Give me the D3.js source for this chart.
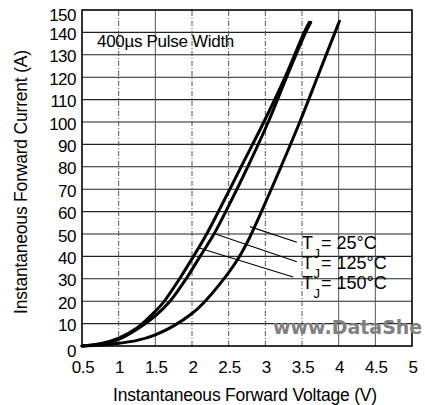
<!DOCTYPE html>
<html>
<head>
<meta charset="utf-8">
<script src="https://cdn.jsdelivr.net/npm/d3@7"></script>
<style>
  html, body { margin: 0; padding: 0; background: #fff; }
  svg { display: block; }
  text { font-family: "Liberation Sans", Arial, sans-serif; fill: #000; }
</style>
</head>
<body>
<div id="chart"></div>
<script>
// ---- Data ----
const xTicks = [0.5, 1, 1.5, 2, 2.5, 3, 3.5, 4, 4.5, 5];
const xTickLabels = ["0.5", "1", "1.5", "2", "2.5", "3", "3.5", "4", "4.5", "5"];
const yTicks = [0, 10, 20, 30, 40, 50, 60, 70, 80, 90, 100, 110, 120, 130, 140, 150];

// Tj = 150°C (leftmost at low current)
const v150 = [0.5, 0.75, 1.0, 1.25, 1.5, 1.61, 1.83, 2.02, 2.2, 2.36, 2.67, 2.98, 3.27, 3.53, 3.6];
const i150 = [0, 1, 3.5, 8, 15.5, 19.5, 30, 40, 50, 60, 80, 100, 120, 140, 144.5];
// Tj = 125°C
const v125 = [0.5, 0.75, 1.0, 1.25, 1.5, 1.70, 1.92, 2.11, 2.3, 2.46, 2.76, 3.04, 3.29, 3.55, 3.62];
const i125 = [0, 0.9, 3, 7.5, 13.5, 20, 30, 40, 50, 60, 80, 100, 120, 140, 144.5];
// Tj = 25°C (rightmost)
const v25 = [0.5, 0.75, 1.0, 1.25, 1.5, 1.75, 2.0, 2.15, 2.40, 2.62, 2.78, 2.92, 3.2, 3.47, 3.71, 3.95, 4.01];
const i25 = [0, 0.4, 1.2, 2.5, 5, 9, 14.5, 19, 28.5, 38.5, 48, 58, 79, 100, 120, 140, 145];

const seriesNames = ["25°C", "125°C", "150°C"];
// leader line: start on curve (V, I) -> end near label (V, I)
const leaderStartV = [2.79, 2.29, 2.11];
const leaderStartI = [53.3, 50.3, 43.6];
const leaderEndV = [3.43, 3.43, 3.38];
const leaderEndI = [46.3, 37.6, 30.8];

const noteText = "400µs Pulse Width";
const xTitle = "Instantaneous Forward Voltage (V)";
const yTitle = "Instantaneous Forward Current (A)";
const watermark = "www.DataShe";

// ---- Layout ----
const W = 425, H = 405;
const margin = { left: 82, top: 10, right: 13, bottom: 59 };
const pw = W - margin.left - margin.right;
const ph = H - margin.top - margin.bottom;

const svg = d3.select("#chart").append("svg")
  .attr("width", W).attr("height", H);

const x = d3.scaleLinear().domain([0.5, 5]).range([margin.left, margin.left + pw]);
const y = d3.scaleLinear().domain([0, 150]).range([margin.top + ph, margin.top]);

// grid
const g = svg.append("g");
g.selectAll("line.hg").data(yTicks.slice(1, -1)).join("line")
  .attr("x1", x(0.5)).attr("x2", x(5))
  .attr("y1", d => y(d)).attr("y2", d => y(d))
  .attr("stroke", "#222").attr("stroke-width", 1.1);
g.selectAll("line.vg").data(xTicks.slice(1, -1)).join("line")
  .attr("y1", y(0)).attr("y2", y(150))
  .attr("x1", d => x(d)).attr("x2", d => x(d))
  .attr("stroke", "#555").attr("stroke-width", 1)
  .attr("stroke-dasharray", d => (d === 1.5 || d === 4 || d === 4.5) ? null : "5,2,1,2");

// frame
svg.append("rect")
  .attr("x", x(0.5)).attr("y", y(150))
  .attr("width", x(5) - x(0.5)).attr("height", y(0) - y(150))
  .attr("fill", "none").attr("stroke", "#000").attr("stroke-width", 1.6);

// watermark
svg.append("text")
  .attr("x", 273).attr("y", 334)
  .style("font-family", "'DejaVu Sans', sans-serif")
  .style("font-weight", "bold").style("font-size", "19px")
  .style("fill", "#808080")
  .text(watermark);

// curves
const line = d3.line().x(d => x(d[0])).y(d => y(d[1])).curve(d3.curveCatmullRom.alpha(0.5));
const curves = [
  d3.zip(v25, i25),
  d3.zip(v125, i125),
  d3.zip(v150, i150)
];
svg.selectAll("path.curve").data(curves).join("path")
  .attr("d", line)
  .attr("fill", "none").attr("stroke", "#000")
  .attr("stroke-width", 3).attr("stroke-linecap", "round");

// leader lines
svg.selectAll("line.leader").data(seriesNames).join("line")
  .attr("x1", (d, k) => x(leaderStartV[k])).attr("y1", (d, k) => y(leaderStartI[k]))
  .attr("x2", (d, k) => x(leaderEndV[k])).attr("y2", (d, k) => y(leaderEndI[k]))
  .attr("stroke", "#000").attr("stroke-width", 1.1);

// labels
seriesNames.forEach((name, k) => {
  const t = svg.append("text")
    .attr("x", 302).attr("y", 249 + k * 20)
    .style("font-size", "18px");
  t.append("tspan").text("T");
  t.append("tspan").attr("dy", 9).attr("dx", 0.5).style("font-size", "13px").text("J");
  t.append("tspan").attr("dy", -9).attr("dx", 1).text("= " + name);
});

// note
svg.append("text").attr("x", 97).attr("y", 47)
  .style("font-size", "17px").style("letter-spacing", "-0.3px")
  .text(noteText);

// y tick labels
svg.selectAll("text.yt").data(yTicks).join("text")
  .attr("x", 76)
  .attr("y", d => y(d) + 7.5 + (d === 150 ? 3 : 0) + (d === 0 ? 3 : 0))
  .attr("text-anchor", "end")
  .style("font-size", "17px").style("letter-spacing", "-0.5px")
  .text(d => d);

// x tick labels
svg.selectAll("text.xt").data(xTicks).join("text")
  .attr("x", d => x(d) + 1)
  .attr("y", 373)
  .attr("text-anchor", "middle")
  .style("font-size", "17px").style("letter-spacing", "-0.3px")
  .text((d, k) => xTickLabels[k]);

// axis titles
svg.append("text")
  .attr("x", (107 + 383) / 2).attr("y", 401)
  .attr("text-anchor", "middle")
  .style("font-size", "17.5px").style("letter-spacing", "-0.2px")
  .text(xTitle);

svg.append("text")
  .attr("transform", "translate(27,182) rotate(-90)")
  .attr("text-anchor", "middle")
  .style("font-size", "17.5px").style("letter-spacing", "-0.2px")
  .text(yTitle);
</script>
</body>
</html>
